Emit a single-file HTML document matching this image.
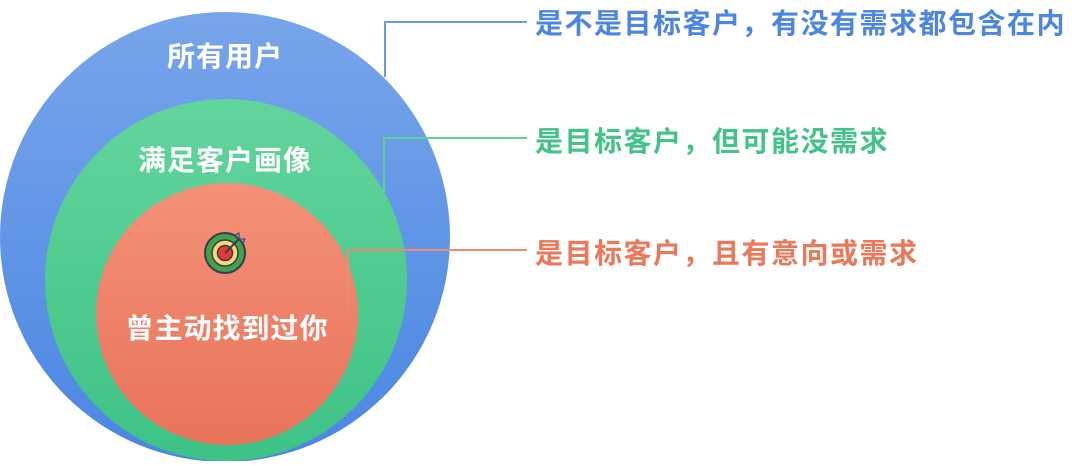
<!DOCTYPE html>
<html><head><meta charset="utf-8"><style>
body{margin:0;width:1080px;height:461px;background:#fff;overflow:hidden}
</style></head><body>
<svg width="1080" height="461" viewBox="0 0 1080 461" font-family="'Liberation Sans','Noto Sans CJK SC',sans-serif" font-weight="bold">
<defs>
<linearGradient id="b" x1="0" y1="0" x2="0" y2="1"><stop offset="0" stop-color="#78a5ea"/><stop offset="1" stop-color="#4a86e2"/></linearGradient>
<linearGradient id="g" x1="0" y1="0" x2="0" y2="1"><stop offset="0" stop-color="#62d59c"/><stop offset="1" stop-color="#3ec285"/></linearGradient>
<linearGradient id="r" x1="0" y1="0" x2="0" y2="1"><stop offset="0" stop-color="#f49178"/><stop offset="1" stop-color="#e8735a"/></linearGradient>
</defs>
<circle cx="225" cy="237" r="225" fill="url(#b)"/>
<circle cx="226" cy="280" r="181" fill="url(#g)"/>
<circle cx="227" cy="314" r="131" fill="url(#r)"/>
<g fill="none" stroke-width="2">
<polyline points="385,77 385,22 527,22" stroke="#6a9be6"/>
<polyline points="384,192 384,138 527,138" stroke="#5fcf98"/>
<polyline points="348,310 348,250 527,250" stroke="#ee8a72"/>
</g>
<g fill="#fff" font-size="28" text-anchor="middle" letter-spacing="1">
<text x="225" y="66">所有用户</text>
<text x="225" y="170">满足客户画像</text>
<text x="227" y="338">曾主动找到过你</text>
</g>
<g font-size="28" letter-spacing="1.5">
<text x="535" y="33" fill="#4c86e0">是不是目标客户，有没有需求都包含在内</text>
<text x="535" y="151" fill="#43c389">是目标客户，但可能没需求</text>
<text x="535" y="263" fill="#ec7759">是目标客户，且有意向或需求</text>
</g>
<g transform="translate(225,253)">
<circle r="20" fill="#3fa34d" stroke="#3b3b4f" stroke-width="2"/>
<circle r="13" fill="#f7d774" stroke="#3b3b4f" stroke-width="1.5"/>
<circle r="7.5" fill="#e53935" stroke="#3b3b4f" stroke-width="1.5"/>
<line x1="0" y1="0" x2="14" y2="-14" stroke="#3b3b4f" stroke-width="2"/>
<path d="M10,-18 L14,-14 L18,-10 L20,-14 L14,-14 L14,-20Z" fill="#4fb3e8" stroke="#3b3b4f" stroke-width="1"/>
</g>
</svg>
</body></html>
